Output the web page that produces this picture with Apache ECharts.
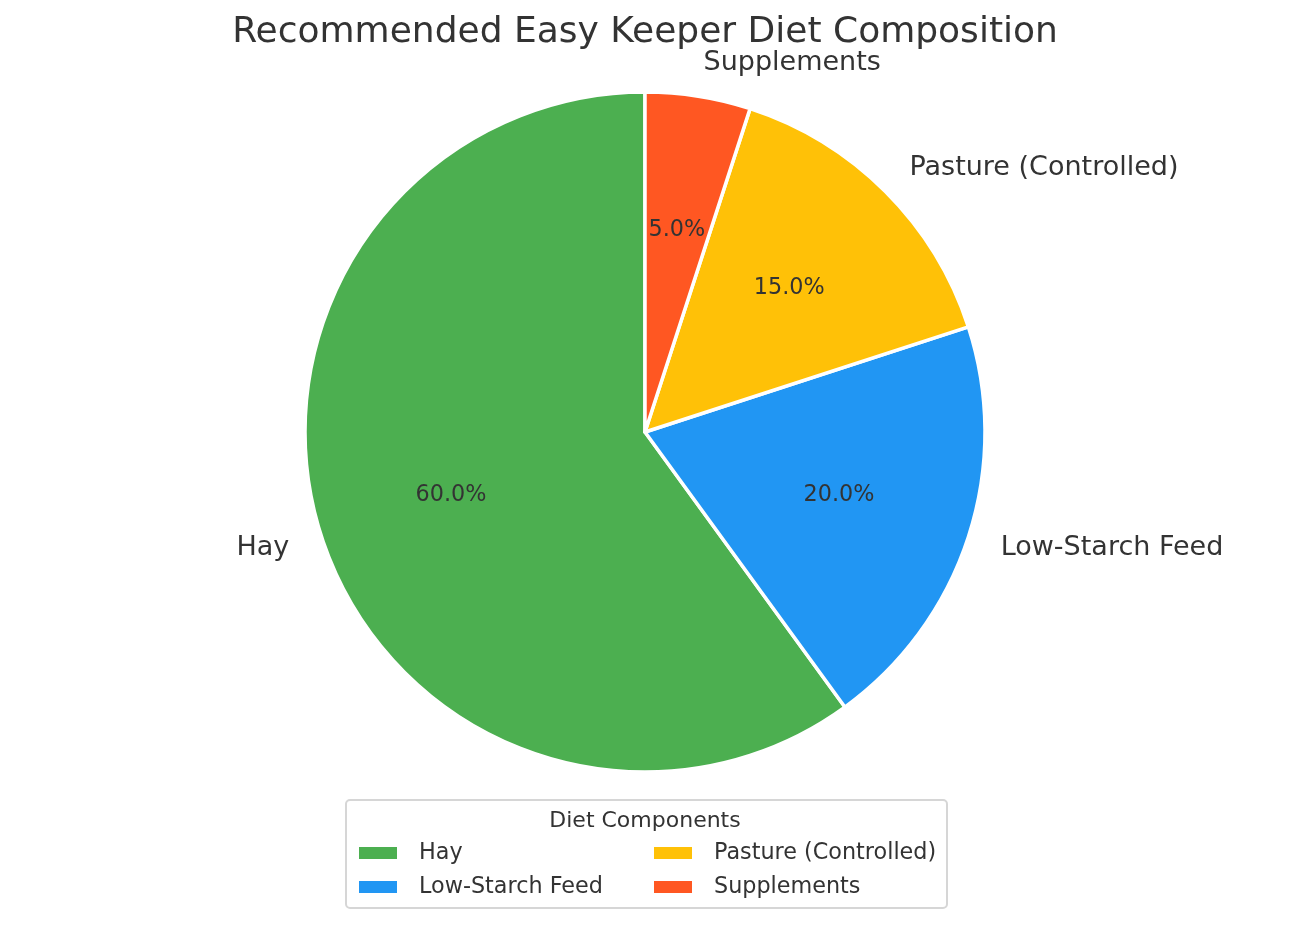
<!DOCTYPE html>
<html>
<head>
<meta charset="utf-8">
<title>Recommended Easy Keeper Diet Composition</title>
<script src="https://cdn.jsdelivr.net/npm/echarts@6/dist/echarts.min.js"></script>
<style>
  html, body { margin: 0; padding: 0; background: #fff; }
  #chart { width: 1290px; height: 925px; }
</style>
</head>
<body>
<div id="chart"></div>
<script>
// diet share per component, in percent
var categories = ["Hay", "Low-Starch Feed", "Pasture (Controlled)", "Supplements"];
var shares = [60, 20, 15, 5];
// legend is filled column by column, like the original
var legendOrder = ["Hay", "Pasture (Controlled)", "Low-Starch Feed", "Supplements"];

var sliceColors = ["#4CAF50", "#2196F3", "#FFC107", "#FF5722"];
var font = "DejaVu Sans";
var ink = "#333333";

var pieData = categories.map(function (name, i) {
    return { name: name, value: shares[i], itemStyle: { color: sliceColors[i] } };
});

var myChart = echarts.init(document.getElementById("chart"), null, { renderer: "canvas" });
myChart.setOption({
    animation: false,
    textStyle: { fontFamily: font },
    title: [{
        text: "Recommended Easy Keeper Diet Composition",
        left: "center",
        top: 10,
        textStyle: { fontFamily: font, fontSize: 36, fontWeight: "normal", color: ink }
    }, {
        text: "Diet Components",
        left: "center",
        top: 805,
        textStyle: { fontFamily: font, fontSize: 22, fontWeight: "normal", color: ink }
    }],
    legend: {
        data: legendOrder,
        orient: "horizontal",
        left: 346,
        top: 800,
        width: 620,
        padding: [40, 8, 8, 11],
        itemGap: 8,
        itemWidth: 40,
        itemHeight: 14,
        icon: "rect",
        borderColor: "#d6d6d6",
        borderWidth: 2,
        borderRadius: 4,
        backgroundColor: "rgba(255,255,255,0.8)",
        textStyle: {
            fontFamily: font,
            fontSize: 22.3,
            color: ink,
            width: 225,
            lineHeight: 26,
            padding: [0, 0, 0, 16]
        }
    },
    series: [{
        // slices with the outer category labels
        type: "pie",
        center: [645, 432],
        radius: [0, 340],
        startAngle: 90,
        clockwise: false,
        avoidLabelOverlap: false,
        silent: true,
        itemStyle: { borderColor: "#ffffff", borderWidth: 3.5 },
        label: {
            show: true,
            position: "outside",
            formatter: "{b}",
            fontFamily: font,
            fontSize: 27,
            color: ink,
            distanceToLabelLine: 0
        },
        labelLine: { show: false, length: 34, length2: 0 },
        emphasis: { disabled: true },
        data: pieData
    }, {
        // transparent copy that carries the percentages at about 0.6 r
        type: "pie",
        center: [645, 432],
        radius: [62, 340],
        startAngle: 90,
        clockwise: false,
        avoidLabelOverlap: false,
        silent: true,
        itemStyle: { color: "rgba(0,0,0,0)", borderWidth: 0 },
        label: {
            show: true,
            position: "inside",
            formatter: function (p) { return p.percent.toFixed(1) + "%"; },
            fontFamily: font,
            fontSize: 22.3,
            color: ink
        },
        labelLine: { show: false },
        emphasis: { disabled: true },
        data: categories.map(function (name, i) {
            return { name: name, value: shares[i] };
        })
    }]
});
</script>
</body>
</html>
